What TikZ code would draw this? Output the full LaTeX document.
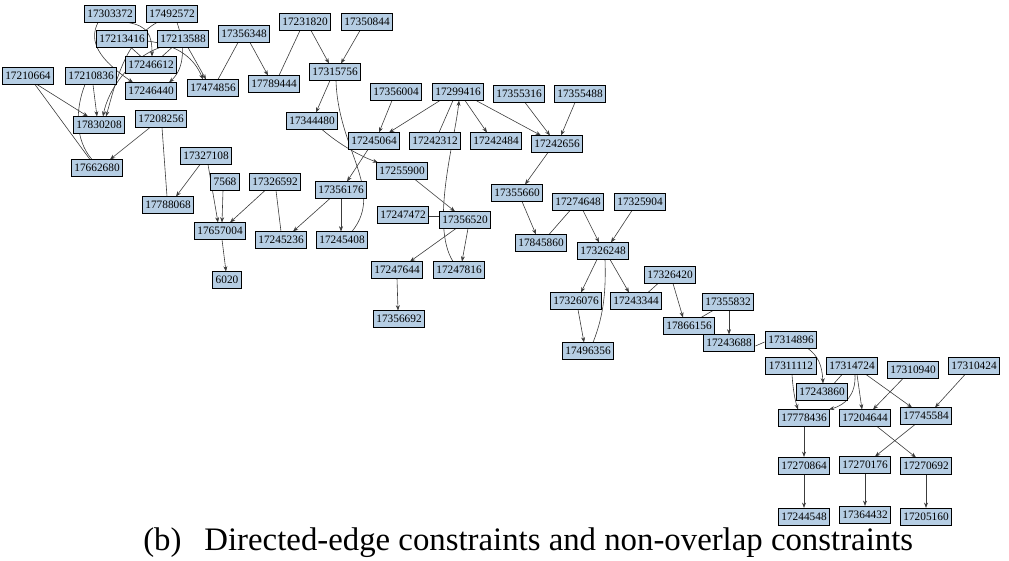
\documentclass[tikz,border=0pt]{standalone}
\usepackage{fontspec}
\setmainfont{Liberation Serif}
\usetikzlibrary{arrows.meta,calc}
\pgfdeclarelayer{bg}
\pgfsetlayers{bg,main}
\definecolor{nodefill}{RGB}{182,206,228}
\definecolor{edgecol}{RGB}{60,60,60}
\tikzset{
  nbox/.style={draw=black,line width=0.9pt,fill=nodefill,rectangle,inner xsep=2.4pt,inner ysep=0pt,minimum height=12.75pt,font=\fontsize{8.5}{10}\selectfont},
  arr/.style={draw=edgecol,line width=0.45pt,-{Stealth[length=4pt,width=3pt]}},
  ln/.style={draw=edgecol,line width=0.45pt},
  captext/.style={font=\fontsize{24.6}{29}\selectfont,anchor=base west,inner sep=0pt}
}
\begin{document}
\begin{tikzpicture}[x=0.75pt,y=-0.75pt]
\useasboundingbox (0,0) rectangle (1009,560);
% nodes
\node[nbox] (n17303372) at (110,14) {17303372};
\node[nbox] (n17492572) at (172,14) {17492572};
\node[nbox] (n17213416) at (122,39) {17213416};
\node[nbox] (n17213588) at (183,39) {17213588};
\node[nbox] (n17246612) at (151,65) {17246612};
\node[nbox] (n17246440) at (151,91) {17246440};
\node[nbox] (n17474856) at (213,88) {17474856};
\node[nbox] (n17210664) at (28,76) {17210664};
\node[nbox] (n17210836) at (91,76) {17210836};
\node[nbox] (n17830208) at (99,125) {17830208};
\node[nbox] (n17208256) at (161,119) {17208256};
\node[nbox] (n17662680) at (97,168) {17662680};
\node[nbox] (n17327108) at (206,156) {17327108};
\node[nbox] (n7568) at (225,182) {7568};
\node[nbox] (n17326592) at (275,182) {17326592};
\node[nbox] (n17788068) at (168,205) {17788068};
\node[nbox] (n17657004) at (220,231) {17657004};
\node[nbox] (n17245236) at (281,240) {17245236};
\node[nbox] (n17356176) at (341,190) {17356176};
\node[nbox] (n17245408) at (342,240) {17245408};
\node[nbox] (n6020) at (227,280) {6020};
\node[nbox] (n17356348) at (244,34) {17356348};
\node[nbox] (n17231820) at (305,22) {17231820};
\node[nbox] (n17350844) at (367,22) {17350844};
\node[nbox] (n17789444) at (274,84) {17789444};
\node[nbox] (n17315756) at (335,72) {17315756};
\node[nbox] (n17356004) at (396,92) {17356004};
\node[nbox] (n17344480) at (312,121) {17344480};
\node[nbox] (n17245064) at (374,141) {17245064};
\node[nbox] (n17242312) at (435,141) {17242312};
\node[nbox] (n17255900) at (402,171) {17255900};
\node[nbox] (n17299416) at (458,92) {17299416};
\node[nbox] (n17355316) at (519,94) {17355316};
\node[nbox] (n17355488) at (580,94) {17355488};
\node[nbox] (n17242484) at (496,141) {17242484};
\node[nbox] (n17242656) at (557,144) {17242656};
\node[nbox] (n17355660) at (517,193) {17355660};
\node[nbox] (n17274648) at (578,202) {17274648};
\node[nbox] (n17845860) at (541,243) {17845860};
\node[nbox] (n17326248) at (603,251) {17326248};
\node[nbox] (n17325904) at (640,202) {17325904};
\node[nbox] (n17247472) at (403,215) {17247472};
\node[nbox] (n17356520) at (465,220) {17356520};
\node[nbox] (n17247644) at (397,270) {17247644};
\node[nbox] (n17247816) at (459,270) {17247816};
\node[nbox] (n17356692) at (399,319) {17356692};
\node[nbox] (n17326076) at (576,301) {17326076};
\node[nbox] (n17243344) at (636,301) {17243344};
\node[nbox] (n17496356) at (588,351) {17496356};
\node[nbox] (n17326420) at (670,275) {17326420};
\node[nbox] (n17866156) at (689,326) {17866156};
\node[nbox] (n17355832) at (728,302) {17355832};
\node[nbox] (n17243688) at (729,343) {17243688};
\node[nbox] (n17314896) at (791,340) {17314896};
\node[nbox] (n17311112) at (791,366) {17311112};
\node[nbox] (n17314724) at (852,366) {17314724};
\node[nbox] (n17310940) at (913,370) {17310940};
\node[nbox] (n17310424) at (974,366) {17310424};
\node[nbox] (n17243860) at (822,392) {17243860};
\node[nbox] (n17778436) at (804,418) {17778436};
\node[nbox] (n17204644) at (865,418) {17204644};
\node[nbox] (n17745584) at (926,416) {17745584};
\node[nbox] (n17270864) at (804,466) {17270864};
\node[nbox] (n17270176) at (865,465) {17270176};
\node[nbox] (n17270692) at (926,466) {17270692};
\node[nbox] (n17244548) at (804,517) {17244548};
\node[nbox] (n17364432) at (865,515) {17364432};
\node[nbox] (n17205160) at (926,517) {17205160};
\node[captext] (cap) at (143,550) {(b)\hspace{0.7em}Directed-edge constraints and non-overlap constraints};
% edges
\begin{pgfonlayer}{bg}
% top-left cluster
\draw[arr] ($(n17303372)+(-12,8.5)$) .. controls (88,42) and (100,60) .. ($(n17246440)+(-18,-8.5)$);
\draw[arr] ($(n17303372)+(18,8.5)$) .. controls (148,26) and (152,35) .. ($(n17246612)+(1,-8.5)$);
\draw[arr] ($(n17492572)+(-15,8.5)$) .. controls (125,40) and (115,85) .. ($(n17830208)+(7,-8.5)$);
\draw[arr] ($(n17213588)+(-23,8.5)$) .. controls (130,58) and (108,90) .. ($(n17830208)+(4,-8.5)$);
\draw[arr] ($(n17492572)+(5,8.5)$) .. controls (185,45) and (185,68) .. ($(n17246440)+(18,-8.5)$);
\draw[arr] ($(n17213416)+(25,2)$) .. controls (180,45) and (195,60) .. ($(n17474856)+(-10,-8.5)$);
\draw[arr] ($(n17213588)+(5,8.5)$) -- ($(n17474856)+(-7,-8.5)$);
\draw[ln] ($(n17213416)+(9,8.5)$) -- ($(n17246612)+(-10,-8.5)$);
\draw[ln] ($(n17213588)+(-11,8.5)$) -- ($(n17246612)+(11,-8.5)$);
\draw[ln] ($(n17356348)+(-6,8.5)$) -- ($(n17474856)+(5,-8.5)$);
\draw[arr] ($(n17356348)+(6,8.5)$) -- ($(n17789444)+(-6,-8.5)$);
\draw[ln] ($(n17231820)+(-5,8.5)$) -- ($(n17789444)+(5,-8.5)$);
\draw[arr] ($(n17231820)+(6,8.5)$) -- ($(n17315756)+(-6,-8.5)$);
\draw[arr] ($(n17350844)+(-7,8.5)$) -- ($(n17315756)+(6,-8.5)$);
\draw[arr] ($(n17315756)+(-5,8.5)$) -- ($(n17344480)+(4,-8.5)$);
\draw[ln] ($(n17315756)+(1,8.5)$) .. controls (338,150) and (385,190) .. ($(n17245408)+(10,-8.5)$);
% left cluster
\draw[arr] ($(n17210664)+(9,8.5)$) -- ($(n17830208)+(-11,-8.5)$);
\draw[ln] ($(n17210664)+(7,8.5)$) -- ($(n17662680)+(-7,-8.5)$);
\draw[arr] ($(n17210836)+(2,8.5)$) -- ($(n17830208)+(-2,-8.5)$);
\draw[ln] ($(n17210836)+(-6,8.5)$) .. controls (75,110) and (75,140) .. ($(n17662680)+(-5,-8.5)$);
\draw[arr] ($(n17208256)+(-11,8.5)$) -- ($(n17662680)+(13,-8.5)$);
\draw[ln] ($(n17208256)+(1,8.5)$) -- ($(n17788068)+(-1,-8.5)$);
\draw[arr] ($(n17327108)+(-6,8.5)$) -- ($(n17788068)+(8,-8.5)$);
\draw[arr] ($(n17327108)+(2,8.5)$) -- ($(n17657004)+(-2,-8.5)$);
\draw[arr] ($(n7568)+(-2,8.5)$) -- ($(n17657004)+(2,-8.5)$);
\draw[arr] ($(n17326592)+(-10,8.5)$) -- ($(n17657004)+(10,-8.5)$);
\draw[ln] ($(n17326592)+(1,8.5)$) -- ($(n17245236)+(0,-8.5)$);
\draw[arr] ($(n17356176)+(-11,8.5)$) -- ($(n17245236)+(12,-8.5)$);
\draw[arr] ($(n17356176)+(0,8.5)$) -- ($(n17245408)+(-1,-8.5)$);
\draw[arr] ($(n17657004)+(2,8.5)$) -- ($(n6020)+(-1,-8.5)$);
% middle
\draw[arr] ($(n17356004)+(-4,8.5)$) -- ($(n17245064)+(5,-8.5)$);
\draw[arr] ($(n17299416)+(-18,8.5)$) -- ($(n17245064)+(15,-8.5)$);
\draw[ln] ($(n17299416)+(-5,8.5)$) -- ($(n17242312)+(4,-8.5)$);
\draw[arr] ($(n17299416)+(7,8.5)$) -- ($(n17242484)+(-9,-8.5)$);
\draw[arr] ($(n17299416)+(18,8.5)$) -- ($(n17242656)+(-16,-8.5)$);
\draw[arr] ($(n17355316)+(6,8.5)$) -- ($(n17242656)+(-7,-8.5)$);
\draw[arr] ($(n17355488)+(-5,8.5)$) -- ($(n17242656)+(4,-8.5)$);
\draw[arr] ($(n17242656)+(-9,8.5)$) -- ($(n17355660)+(8,-8.5)$);
\draw[arr] ($(n17344480)+(10,8.5)$) .. controls (340,145) and (360,156) .. ($(n17255900)+(-24,-8.5)$);
\draw[arr] ($(n17245064)+(-6,8.5)$) -- ($(n17356176)+(6,-8.5)$);
\draw[arr] ($(n17255900)+(13,8.5)$) -- ($(n17356520)+(-10,-8.5)$);
\draw[ln] ($(n17247472.east)+(0,1)$) -- ($(n17356520.west)+(0,-4)$);
\draw[arr] ($(n17356520)+(-9,8.5)$) -- ($(n17247644)+(13,-8.5)$);
\draw[arr] ($(n17356520)+(3,8.5)$) -- ($(n17247816)+(3,-8.5)$);
\draw[arr] ($(n17247816)+(-6,-8.5)$) .. controls (430,225) and (455,140) .. ($(n17299416)+(1,8.5)$);
\draw[arr] ($(n17247644)+(0,8.5)$) -- ($(n17356692)+(-1,-8.5)$);
\draw[arr] ($(n17355660)+(5,8.5)$) -- ($(n17845860)+(-5,-8.5)$);
\draw[ln] ($(n17274648)+(-8,8.5)$) -- ($(n17845860)+(8,-8.5)$);
\draw[arr] ($(n17274648)+(5,8.5)$) -- ($(n17326248)+(-4,-8.5)$);
\draw[arr] ($(n17325904)+(-8,8.5)$) -- ($(n17326248)+(8,-8.5)$);
\draw[arr] ($(n17326248)+(-6,8.5)$) -- ($(n17326076)+(5,-8.5)$);
\draw[arr] ($(n17326248)+(7,8.5)$) -- ($(n17243344)+(-7,-8.5)$);
\draw[ln] ($(n17326248)+(2,8.5)$) .. controls (606,290) and (604,315) .. ($(n17496356)+(5,-8.5)$);
\draw[arr] ($(n17326076)+(2,8.5)$) -- ($(n17496356)+(-4,-8.5)$);
\draw[ln] ($(n17326420)+(-12,8.5)$) -- ($(n17243344)+(12,-8.5)$);
\draw[arr] ($(n17326420)+(3,8.5)$) -- ($(n17866156)+(-6,-8.5)$);
\draw[ln] ($(n17355832)+(-15,8.5)$) -- ($(n17866156)+(12,-8.5)$);
\draw[arr] ($(n17355832)+(1,8.5)$) -- ($(n17243688)+(0,-8.5)$);
% bottom-right cluster
\draw[ln] ($(n17314896.west)+(0,2)$) -- ($(n17243688.east)+(0,3)$);
\draw[arr] ($(n17314896)+(17,8.5)$) .. controls (818,356) and (822,365) .. ($(n17243860)+(1,-8.5)$);
\draw[arr] ($(n17311112)+(1,8.5)$) .. controls (793,390) and (795,400) .. ($(n17778436)+(-6,-8.5)$);
\draw[ln] ($(n17314724)+(-10,8.5)$) -- ($(n17243860)+(12,-8.5)$);
\draw[arr] ($(n17314724)+(3,8.5)$) .. controls (856,395) and (845,405) .. ($(n17778436)+(25,-8.5)$);
\draw[arr] ($(n17314724)+(5,8.5)$) -- ($(n17204644)+(-3,-8.5)$);
\draw[arr] ($(n17314724)+(14,8.5)$) -- ($(n17745584)+(-14,-8.5)$);
\draw[arr] ($(n17310940)+(-10,8.5)$) -- ($(n17204644)+(8,-8.5)$);
\draw[arr] ($(n17310424)+(-9,8.5)$) -- ($(n17745584)+(9,-8.5)$);
\draw[arr] (n17778436) -- (n17270864);
\draw[arr] ($(n17745584)+(-11,8.5)$) -- ($(n17270176)+(10,-8.5)$);
\draw[arr] ($(n17204644)+(12,8.5)$) -- ($(n17270692)+(-10,-8.5)$);
\draw[arr] (n17270864) -- (n17244548);
\draw[arr] (n17270176) -- (n17364432);
\draw[arr] (n17270692) -- (n17205160);
\end{pgfonlayer}
\end{tikzpicture}
\end{document}
